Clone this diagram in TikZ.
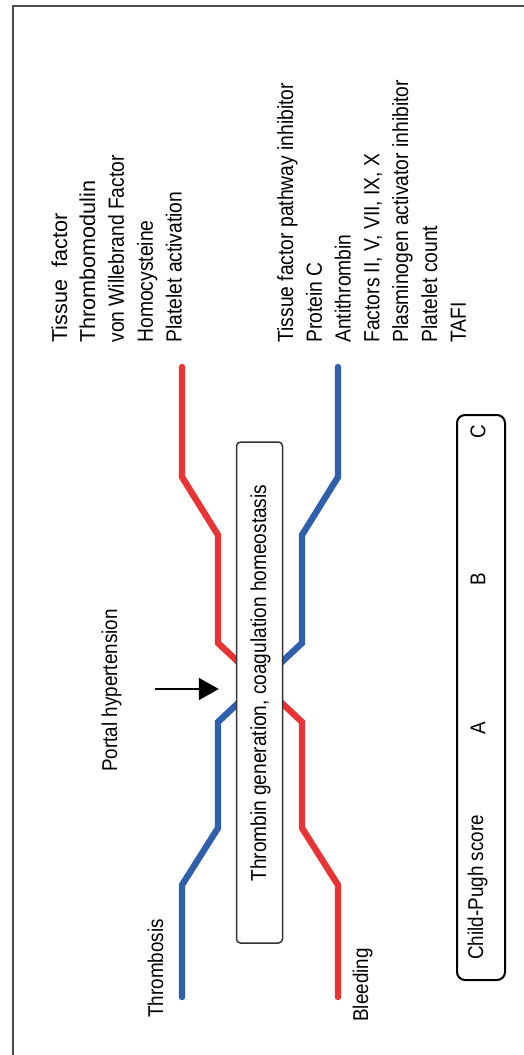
\documentclass[tikz,border=0pt]{standalone}
\usepackage{fontspec}
\setmainfont[FakeStretch=0.88]{Liberation Sans}
\newfontfamily\widefont{Liberation Sans}
\usepackage{tikz}
\usetikzlibrary{calc,positioning,arrows.meta}
\definecolor{bleedred}{RGB}{232,52,52}
\definecolor{thrblue}{RGB}{46,96,172}
\tikzset{
vtxt/.style={
  rotate=90,
  anchor=base west,
  inner sep=0pt,
  font=\fontsize{10.7}{12}\selectfont
  },
listtxt/.style={
  vtxt,
  font=\fontsize{10.95}{12}\selectfont
  },
bigtxt/.style={
  vtxt,
  font=\widefont\fontsize{10.8}{12}\selectfont
  },
pathline/.style={
  line width=3.2pt,
  line cap=round,
  draw=#1
  },
homeobox/.style={
  draw=black!80,
  line width=0.75pt,
  fill=white,
  rounded corners=2pt,
  inner sep=0pt
  },
scorebox/.style={
  draw=black,
  line width=1pt,
  rounded corners=4pt,
  inner sep=0pt
  }
}

\begin{document}
\begin{tikzpicture}[>=latex,x=0.5pt,y=-0.5pt]
    \useasboundingbox (0,0) rectangle (524,1055);
    % frame
    \draw[black!70,line width=1pt] (13,1055) -- (13,6) -- (524,6);

    % upper list
    \node[bigtxt] (tf) at (67,343) {Tissue\ \ factor};
    \node[bigtxt] (tm) at (95,343) {Thrombomodulin};
    \foreach \t [count=\k] in {von Willebrand Factor,Homocysteine,Platelet activation}
        \node[listtxt] (pro\k) at ({95+28.9*\k},343) {\t};
    % lower list
    \foreach \t [count=\k] in {Tissue factor pathway inhibitor,Protein C,Antithrombin,
        {Factors II, V, VII, IX, X},Plasminogen activator inhibitor,Platelet count,TAFI}
        \node[listtxt] (anti\k) at ({293+28.8*(\k-1)},343) {\t};

    % balance lines
    \draw[pathline=bleedred] (182,367) -- (182,477) -- (218,535) -- (218,643)
        -- (302,722) -- (302,828) -- (338,885) -- (338,997);
    \draw[pathline=thrblue] (338,367) -- (338,477) -- (302,535) -- (302,643)
        -- (218,722) -- (218,828) -- (182,885) -- (182,997);

    \node[homeobox,minimum width=23pt,minimum height=250.5pt] (thr) at (259.5,692.5) {};
    \node[vtxt,font=\fontsize{10.85}{12}\selectfont] (thrtxt) at (266,882)
        {Thrombin generation, coagulation homeostasis};

    \node[vtxt] (portal) at (117,772) {Portal hypertension};
    \coordinate (arrS) at (155,689);
    \draw[-{Triangle[length=10pt,width=11pt]},line width=1pt,shorten >=8.5pt]
        (arrS) -- (arrS -| thr.west);

    \node[vtxt] (thromb) at (163,1018) {Thrombosis};
    \node[vtxt] (bleed) at (368,1022) {Bleeding};

    % Child-Pugh
    \node[scorebox,minimum width=24pt,minimum height=282.5pt] (cp) at (481,697.5) {};
    \node[vtxt] (cptxt) at (483,960) {Child-Pugh score};
    \node[vtxt,anchor=center] (cpa) at (478,728) {A};
    \node[vtxt,anchor=center] (cpb) at (478,579) {B};
    \node[vtxt,anchor=center] (cpc) at (478,432) {C};
\end{tikzpicture}
\end{document}
